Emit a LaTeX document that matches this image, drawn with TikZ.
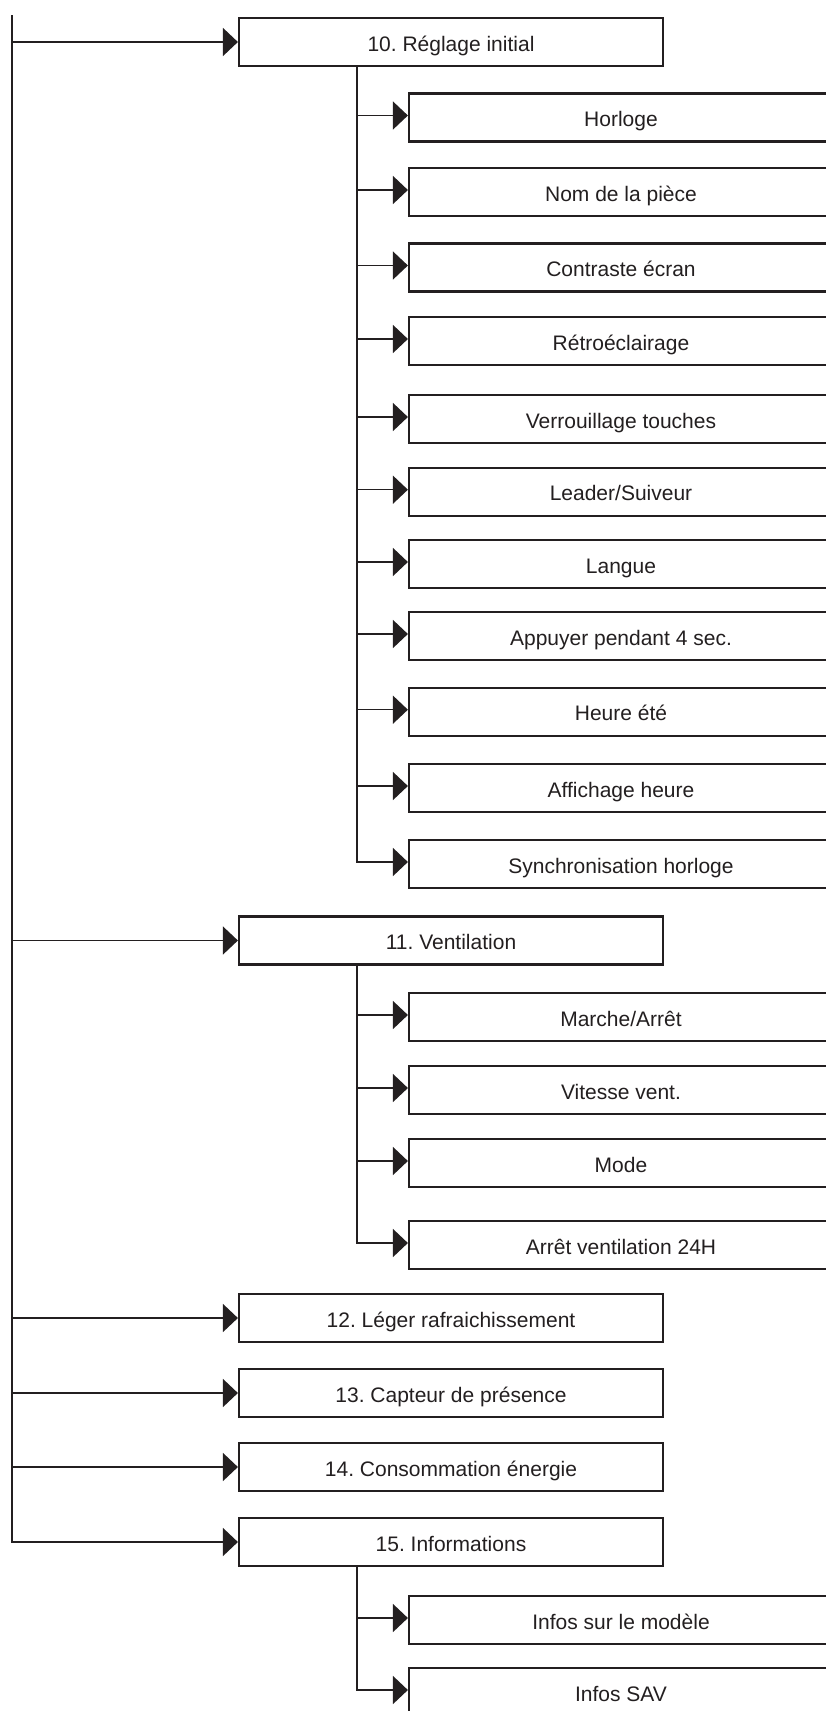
\documentclass[tikz,border=0pt]{standalone}
\usepackage{fontspec}
\setmainfont{Liberation Sans}
\usetikzlibrary{arrows.meta}
\definecolor{ink}{RGB}{35,31,32}
\frenchspacing
\begin{document}
\begin{tikzpicture}[x=1pt,y=-1pt,
  box/.style={draw=ink, line width=2.2pt, minimum width=424pt, minimum height=48pt,
    inner sep=0pt, text=ink, font=\fontsize{21}{25}\selectfont\frenchspacing,
    text height=18.4pt, text depth=0pt},
  conn/.style={draw=ink, line width=1.5pt},
  arr/.style={conn, -{Triangle[length=15pt,width=28pt]}}]
\useasboundingbox (0,0) rectangle (826,1711);
\clip (0,0) rectangle (826,1711);
\fill[white] (0,0) rectangle (826,1711);
% main boxes
\node[box] (b10) at (451,42) {10. Réglage initial};
\node[box] (b11) at (451,940.5) {11. Ventilation};
\node[box] (b12) at (451,1318) {12. Léger rafraichissement};
\node[box] (b13) at (451,1393) {13. Capteur de présence};
\node[box] (b14) at (451,1467) {14. Consommation énergie};
\node[box] (b15) at (451,1542) {15. Informations};
% sub boxes of 10
\node[box] (a1) at (621,117.5) {Horloge};
\node[box] (a2) at (621,192) {Nom de la pièce};
\node[box] (a3) at (621,267.5) {Contraste écran};
\node[box] (a4) at (621,341) {Rétroéclairage};
\node[box] (a5) at (621,419) {Verrouillage touches};
\node[box] (a6) at (621,491.7) {Leader/Suiveur};
\node[box] (a7) at (621,564) {Langue};
\node[box] (a8) at (621,636) {Appuyer pendant 4 sec.};
\node[box] (a9) at (621,711.7) {Heure été};
\node[box] (a10) at (621,788) {Affichage heure};
\node[box] (a11) at (621,864) {Synchronisation horloge};
% sub boxes of 11
\node[box] (c1) at (621,1017) {Marche/Arrêt};
\node[box] (c2) at (621,1090) {Vitesse vent.};
\node[box] (c3) at (621,1163) {Mode};
\node[box] (c4) at (621,1245) {Arrêt ventilation 24H};
% sub boxes of 15
\node[box] (d1) at (621,1620) {Infos sur le modèle};
\node[box] (d2) at (621,1692) {Infos SAV};
% entry points (arrows land slightly above centre)
\foreach \s in {a1,a2,a3,a4,a5,a6,a7,a8,a9,a10,a11,c1,c2,c3,c4,d1,d2}
  \coordinate (\s in) at ([yshift=2pt]\s.west);
% main spine
\coordinate (top) at (12,15);
\foreach \b in {b10,b11,b12,b13,b14}
  \draw[arr] (top |- \b.west) -- (\b.west);
\draw[arr] (top) |- (b15.west);
% sub trees
\coordinate (v) at (357,0);
\foreach \s in {a1,a2,a3,a4,a5,a6,a7,a8,a9,a10}
  \draw[arr] (v |- \s in) -- (\s in);
\draw[arr] (b10.south -| v) |- (a11in);
\foreach \s in {c1,c2,c3}
  \draw[arr] (v |- \s in) -- (\s in);
\draw[arr] (b11.south -| v) |- (c4in);
\draw[arr] (v |- d1in) -- (d1in);
\draw[arr] (b15.south -| v) |- (d2in);
\end{tikzpicture}
\end{document}
